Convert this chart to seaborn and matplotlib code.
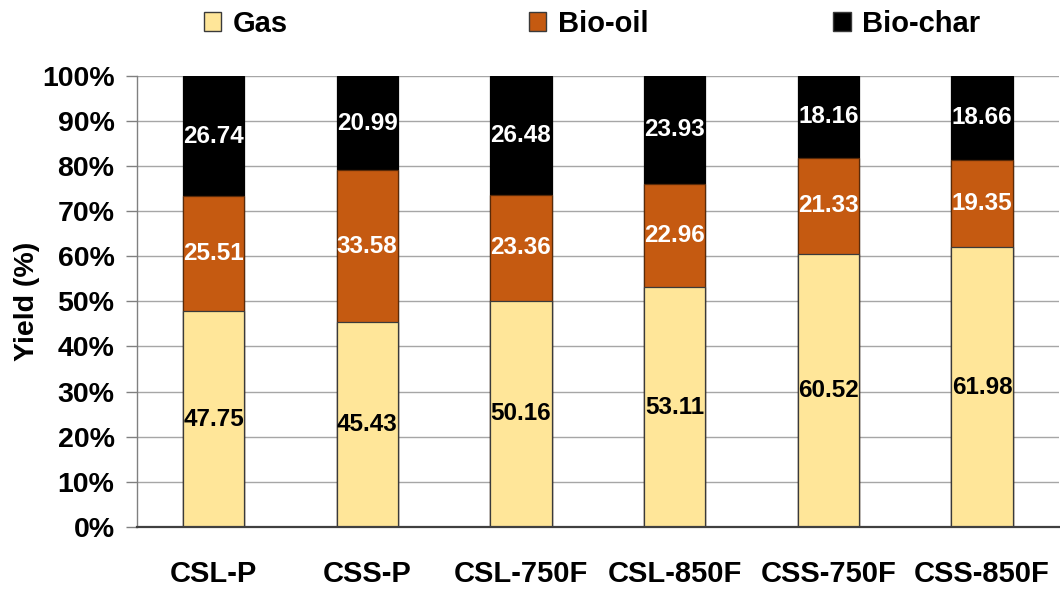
import matplotlib
matplotlib.use("Agg")
import matplotlib.pyplot as plt
from matplotlib.patches import Patch
import numpy as np
import seaborn as sns

# Product yields (%) for each sample
samples = ["CSL-P", "CSS-P", "CSL-750F", "CSL-850F", "CSS-750F", "CSS-850F"]
gas = [47.75, 45.43, 50.16, 53.11, 60.52, 61.98]
bio_oil = [25.51, 33.58, 23.36, 22.96, 21.33, 19.35]
bio_char = [26.74, 20.99, 26.48, 23.93, 18.16, 18.66]
y_ticks = [0, 10, 20, 30, 40, 50, 60, 70, 80, 90, 100]

colors = {"Gas": "#FFE699", "Bio-oil": "#C55A11", "Bio-char": "#000000"}

sns.set_theme(style="white")
plt.rcParams["font.family"] = ["Liberation Sans", "DejaVu Sans"]
plt.rcParams["font.weight"] = "bold"
plt.rcParams["text.color"] = "black"
plt.rcParams["axes.labelcolor"] = "black"

fig = plt.figure(figsize=(10.6, 5.92), dpi=100)
ax = fig.add_axes([0.129, 0.110, 0.870, 0.762])

gas_a = np.array(gas)
oil_a = np.array(bio_oil)
char_a = np.array(bio_char)
top_oil = gas_a + oil_a
top_char = top_oil + char_a

# Stacked bars: draw cumulative totals from the top layer downward
layers = [
    (top_char, colors["Bio-char"], "#000000"),
    (top_oil, colors["Bio-oil"], "#5A2A08"),
    (gas_a, colors["Gas"], "#3A3A3A"),
]
for heights, fc, ec in layers:
    sns.barplot(x=samples, y=heights, color=fc, saturation=1, width=0.40,
                edgecolor=ec, linewidth=0.9, ax=ax, zorder=3)

# Segment value labels
for i in range(len(samples)):
    ax.text(i, gas_a[i] / 2, f"{gas[i]:.2f}", ha="center", va="center",
            fontsize=17.5, fontweight="bold", color="black", zorder=5)
    ax.text(i, gas_a[i] + oil_a[i] / 2, f"{bio_oil[i]:.2f}", ha="center",
            va="center", fontsize=17.5, fontweight="bold", color="white", zorder=5)
    ax.text(i, top_oil[i] + char_a[i] / 2, f"{bio_char[i]:.2f}", ha="center",
            va="center", fontsize=17.5, fontweight="bold", color="white", zorder=5)

ax.set_xlim(-0.5, len(samples) - 0.5)
ax.set_ylim(0, 100)
ax.set_yticks(y_ticks)
ax.set_yticklabels([f"{t}%" for t in y_ticks], fontsize=20.5, fontweight="bold")
ax.set_xticks(range(len(samples)))
ax.set_xticklabels(samples, fontsize=21, fontweight="bold")
ax.set_xlabel("")
ax.set_ylabel("Yield (%)", fontsize=20.5, fontweight="bold", labelpad=1.5)

ax.yaxis.grid(True, color="#A6A6A6", linewidth=1.0, zorder=0)
ax.set_axisbelow(True)
ax.tick_params(axis="y", which="major", direction="out", length=8, width=1,
               color="#808080", labelcolor="black", pad=8, left=True)
ax.tick_params(axis="x", length=0, pad=24, labelcolor="black")

for side in ["top", "right"]:
    ax.spines[side].set_visible(False)
ax.spines["left"].set_color("#808080")
ax.spines["left"].set_linewidth(1.0)
ax.spines["bottom"].set_color("#404040")
ax.spines["bottom"].set_linewidth(1.6)
ax.spines["left"].set_zorder(4)
ax.spines["bottom"].set_zorder(4)

# Legend entries placed across the top
legend_pos = {"Gas": 0.192, "Bio-oil": 0.499, "Bio-char": 0.786}
for name, xpos in legend_pos.items():
    handle = Patch(facecolor=colors[name], edgecolor="#3A3A3A", linewidth=1.0)
    fig.legend(handles=[handle], labels=[name], loc="center left",
               bbox_to_anchor=(xpos, 0.960), frameon=False,
               prop={"size": 21, "weight": "bold"},
               handlelength=0.6, handleheight=0.6, handletextpad=0.4,
               borderpad=0, borderaxespad=0)

fig.savefig("out.png", dpi=100)
